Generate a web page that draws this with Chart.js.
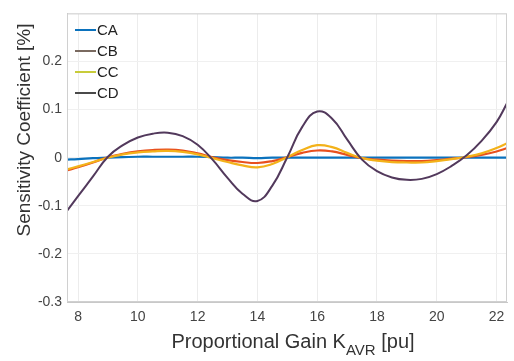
<!DOCTYPE html>
<html><head><meta charset="utf-8">
<script src="https://cdn.jsdelivr.net/npm/chart.js@4/dist/chart.umd.min.js"></script>
<style>html,body{margin:0;padding:0;background:#fff}#w{width:514px;height:361px}</style>
</head><body><div id="w"><canvas id="c" width="514" height="361"></canvas></div>
<script>
const gainK = [7.6, 8, 8.5, 9, 9.5, 10, 10.5, 11, 11.5, 12, 12.5, 13, 13.5, 14, 14.5, 15, 15.5, 16, 16.5, 17, 17.5, 18, 18.5, 19, 19.5, 20, 20.5, 21, 21.5, 22, 22.35];
const seriesCA = [-0.004, -0.003, -0.001, 0.000, 0.001, 0.002, 0.002, 0.002, 0.002, 0.002, 0.001, 0.000, 0.000, -0.001, 0.000, 0.000, 0.000, 0.000, 0.000, 0.000, 0.000, 0.000, 0.000, 0.000, 0.000, 0.000, 0.000, 0.000, 0.000, 0.000, 0.000];
const seriesCB = [-0.027, -0.020, -0.010, 0.001, 0.008, 0.013, 0.016, 0.017, 0.015, 0.009, 0.001, -0.005, -0.009, -0.011, -0.007, 0.001, 0.010, 0.015, 0.013, 0.006, -0.001, -0.004, -0.006, -0.007, -0.007, -0.005, -0.002, 0.001, 0.006, 0.013, 0.020];
const seriesCC = [-0.025, -0.018, -0.009, 0.000, 0.007, 0.011, 0.013, 0.014, 0.012, 0.007, -0.001, -0.009, -0.016, -0.020, -0.013, 0.001, 0.016, 0.026, 0.022, 0.010, -0.001, -0.006, -0.009, -0.010, -0.010, -0.007, -0.003, 0.002, 0.009, 0.020, 0.030];
const seriesCD = [-0.113, -0.080, -0.039, 0.002, 0.026, 0.042, 0.050, 0.052, 0.045, 0.027, -0.004, -0.042, -0.075, -0.090, -0.058, 0.001, 0.064, 0.096, 0.081, 0.038, -0.004, -0.028, -0.041, -0.046, -0.044, -0.034, -0.017, 0.005, 0.035, 0.074, 0.113];
const xTicks = [8, 10, 12, 14, 16, 18, 20, 22];
const yTicks = [-0.3, -0.2, -0.1, 0, 0.1, 0.2, 0.3];
const seriesNames = ['CA', 'CB', 'CC', 'CD'];

const colors = ['#0b72bd', '#e8501e', '#f3b21a', '#52395c'];
const legendColors = ['#0b72bd', '#7a6a60', '#c8cc3a', '#4a4a4a'];
const allSeries = [seriesCA, seriesCB, seriesCC, seriesCD];
const FONT = '"Liberation Sans", Arial, Helvetica, sans-serif';

const datasets = seriesNames.map((n, i) => ({
  label: n,
  data: gainK.map((x, j) => ({x: x, y: allSeries[i][j]})),
  borderColor: colors[i],
  borderWidth: i === 3 ? 2 : 2.2,
  pointRadius: 0,
  tension: 0.45,
  fill: false
})).reverse();

const overlay = {
  id: 'overlay',
  afterDraw(chart) {
    const ctx = chart.ctx, a = chart.chartArea;
    ctx.save();
    ctx.strokeStyle = '#d0d0d0';
    ctx.lineWidth = 1;
    ctx.strokeRect(a.left + 0.5, a.top + 0.5, a.right - a.left - 1, a.bottom - a.top - 1);
    // legend
    ctx.font = '15px ' + FONT;
    ctx.textBaseline = 'middle';
    seriesNames.forEach((n, i) => {
      const y = 30 + i * 21;
      ctx.strokeStyle = legendColors[i];
      ctx.lineWidth = 2;
      ctx.beginPath(); ctx.moveTo(75, y); ctx.lineTo(96, y); ctx.stroke();
      ctx.fillStyle = '#222';
      ctx.textAlign = 'left';
      ctx.fillText(n, 97, y + 1);
    });
    // y title
    ctx.save();
    ctx.translate(25, 130);
    ctx.rotate(-Math.PI / 2);
    ctx.font = '19px ' + FONT;
    ctx.fillStyle = '#333';
    ctx.textAlign = 'center';
    ctx.textBaseline = 'middle';
    ctx.fillText('Sensitivity Coefficient [%]', 0, 0);
    ctx.restore();
    // x title with subscript
    ctx.fillStyle = '#333';
    ctx.textBaseline = 'alphabetic';
    const main = 'Proportional Gain K', sub = 'AVR', tail = ' [pu]';
    ctx.font = '20px ' + FONT;
    const w1 = ctx.measureText(main).width, w3 = ctx.measureText(tail).width;
    ctx.font = '15px ' + FONT;
    const w2 = ctx.measureText(sub).width;
    const total = w1 + w2 + w3;
    let x = 293 - total / 2;
    const base = 348;
    ctx.textAlign = 'left';
    ctx.font = '20px ' + FONT; ctx.fillText(main, x, base); x += w1;
    ctx.font = '15px ' + FONT; ctx.fillText(sub, x, base + 7); x += w2;
    ctx.font = '20px ' + FONT; ctx.fillText(tail, x, base);
    ctx.restore();
  }
};

new Chart(document.getElementById('c'), {
  type: 'line',
  data: { datasets },
  options: {
    responsive: false,
    animation: false,
    layout: { padding: { top: 12, right: 7, left: 0, bottom: 0 } },
    plugins: { legend: { display: false }, tooltip: { enabled: false } },
    scales: {
      x: {
        type: 'linear', min: 7.63, max: 22.35,
        afterBuildTicks: s => { s.ticks = xTicks.map(v => ({value: v})); },
        afterFit: s => { s.height = 59; },
        grid: { color: '#ececec', drawTicks: false },
        border: { color: '#c8c8c8' },
        ticks: { color: '#444', font: { family: FONT, size: 14 }, padding: 7, maxRotation: 0,
          callback: v => String(v) }
      },
      y: {
        type: 'linear', min: -0.3, max: 0.3,
        afterBuildTicks: s => { s.ticks = yTicks.map(v => ({value: v})); },
        afterFit: s => { s.width = 67; },
        grid: { color: '#f0f0f0', drawTicks: false },
        border: { color: '#c8c8c8' },
        ticks: { color: '#444', font: { family: FONT, size: 14 }, padding: 5,
          callback: v => (Math.abs(v - 0.3) < 1e-9 ? '' : String(Math.round(v * 10) / 10)) }
      }
    }
  },
  plugins: [overlay]
});
</script></body></html>
